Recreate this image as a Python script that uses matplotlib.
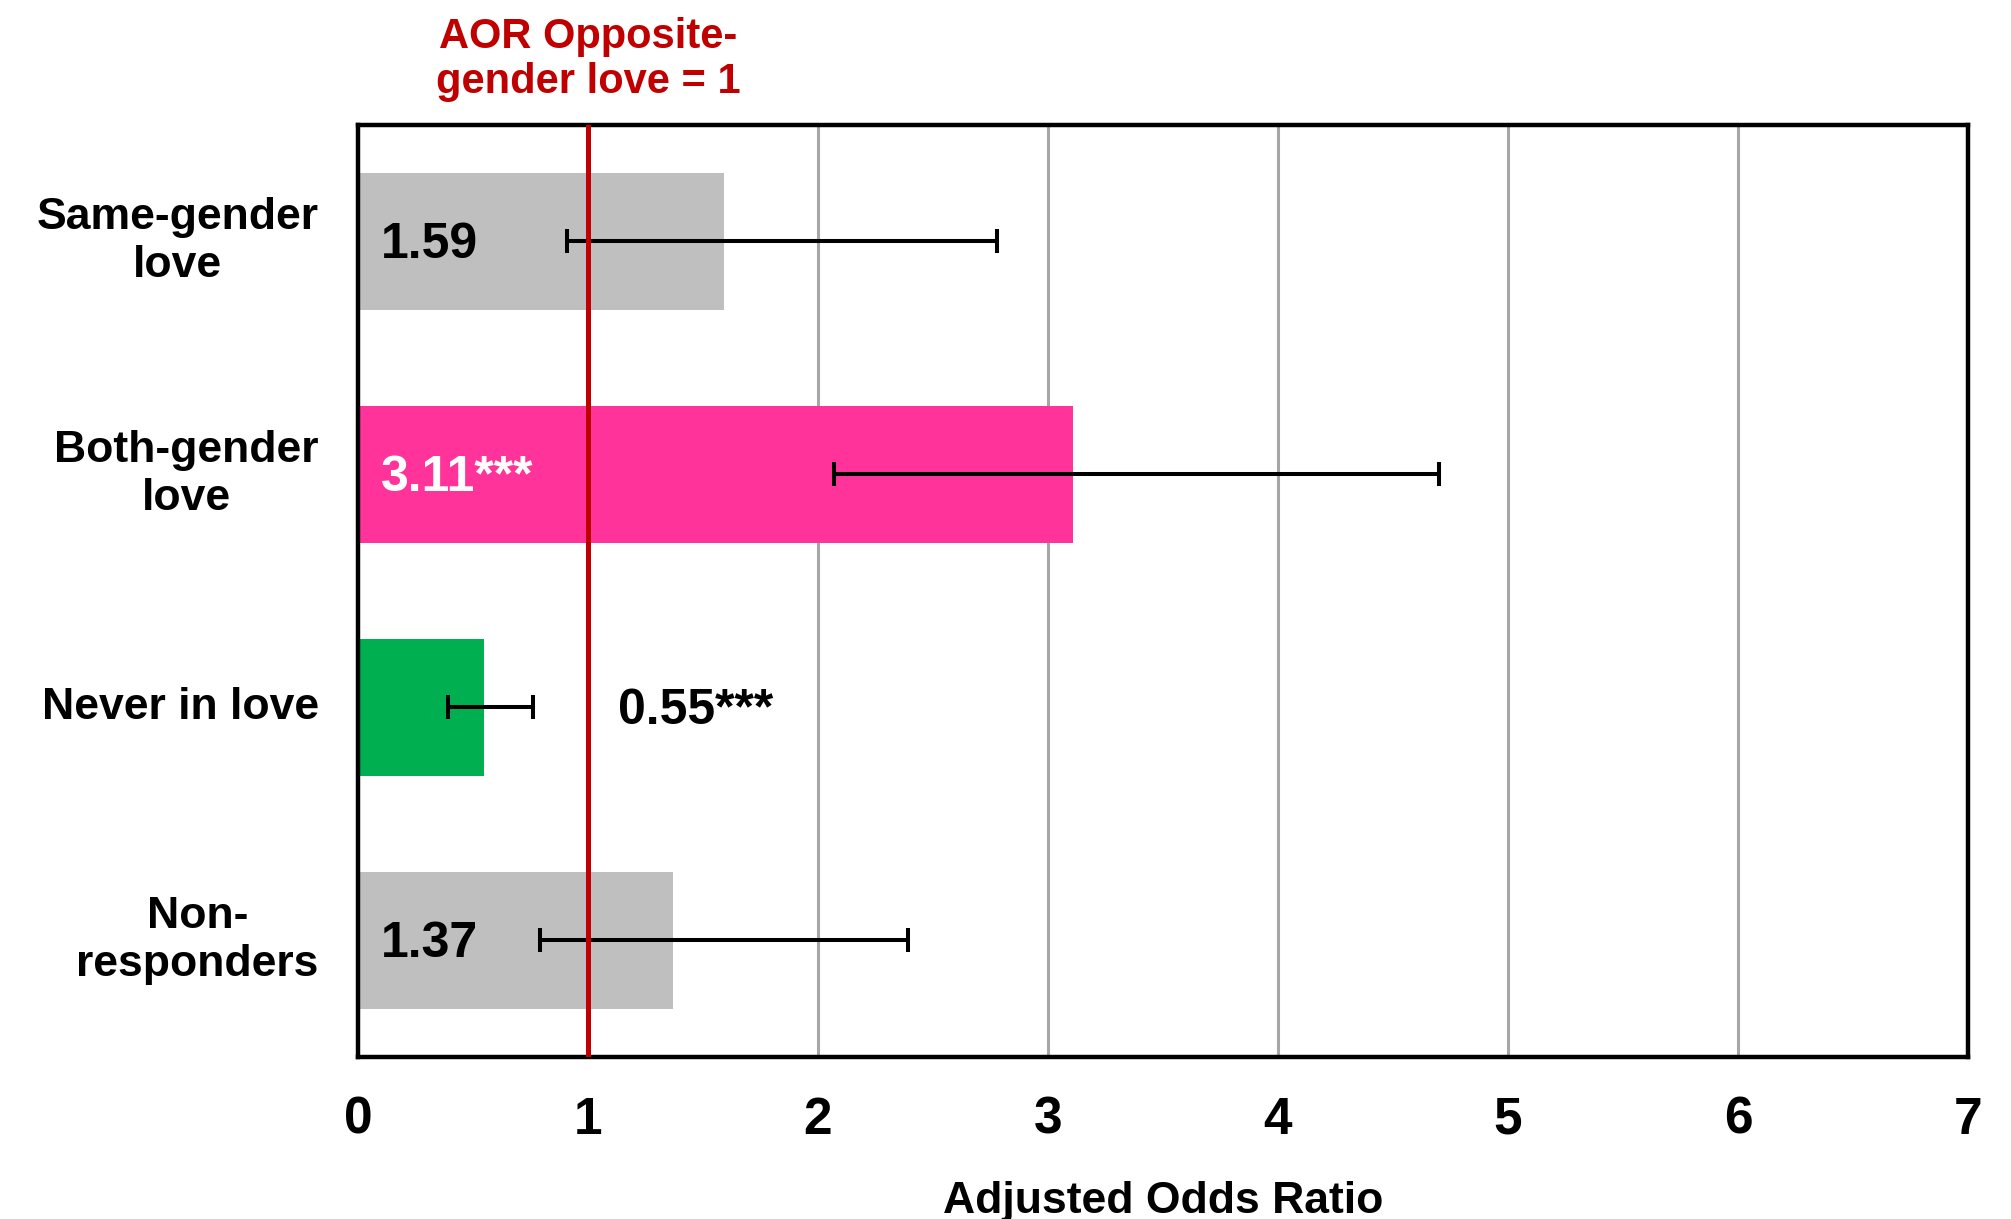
import matplotlib
matplotlib.use("Agg")
import matplotlib.pyplot as plt

plt.rcParams['font.family'] = ['Liberation Sans', 'DejaVu Sans']
plt.rcParams['font.weight'] = 'bold'

# adjusted odds ratios vs. opposite-gender love (reference = 1)
groups = ["Same-gender\nlove", "Both-gender\nlove", "Never in love", "Non-\nresponders"]
aor = [1.59, 3.11, 0.55, 1.37]
ci_low = [0.91, 2.07, 0.39, 0.79]
ci_high = [2.78, 4.70, 0.76, 2.39]
value_labels = ["1.59", "3.11***", "0.55***", "1.37"]
bar_colors = ["#BFBFBF", "#FF3399", "#00B050", "#BFBFBF"]
label_colors = ["black", "white", "black", "black"]
ref_value = 1

fig = plt.figure(figsize=(20.11, 12.19), dpi=100)
ax = fig.add_axes([0.178, 0.133, 0.8006, 0.7645])

ypos = list(range(len(groups)))
ax.barh(ypos, aor, height=0.59, color=bar_colors, zorder=2)

xerr = [[a - lo for a, lo in zip(aor, ci_low)],
        [hi - a for a, hi in zip(aor, ci_high)]]
ax.errorbar(aor, ypos, xerr=xerr, fmt='none', ecolor='black',
            elinewidth=2.9, capsize=8.5, capthick=2.9, zorder=3)

ax.axvline(ref_value, color='#C00000', lw=3.6, zorder=4)

# value labels: inside the bar, except the short green one
for i, (txt, col) in enumerate(zip(value_labels, label_colors)):
    xt = 0.1 if aor[i] > 1 else 1.13
    ax.text(xt, i + 0.015, txt, color=col, fontsize=36, fontweight='bold',
            ha='left', va='center', zorder=5)

ax.text(ref_value, 1.07, "AOR Opposite-\ngender love = 1", color='#C00000',
        fontsize=30, fontweight='bold', ha='center', va='center',
        linespacing=1.15, transform=ax.get_xaxis_transform())

ax.set_xlim(0, 7)
ax.set_ylim(3.5, -0.5)
ax.set_xticks(range(8))
ax.set_xticklabels([str(v) for v in range(8)], fontsize=37, fontweight='bold')
ax.tick_params(axis='x', length=0, pad=28)
ax.set_yticks(ypos)
ax.set_yticklabels([])
ax.tick_params(axis='y', length=0)

for i, g in enumerate(groups):
    ax.text(-0.17, i, g, fontsize=32, fontweight='bold', ha='right',
            va='center', multialignment='center', linespacing=1.2)

for v in range(2, 7):
    ax.axvline(v, color='#A6A6A6', lw=2.2, zorder=1)

for s in ax.spines.values():
    s.set_linewidth(3.2)
    s.set_color('black')

ax.set_xlabel("Adjusted Odds Ratio", fontsize=32, fontweight='bold', labelpad=26)

fig.savefig("out.png", dpi=100)
